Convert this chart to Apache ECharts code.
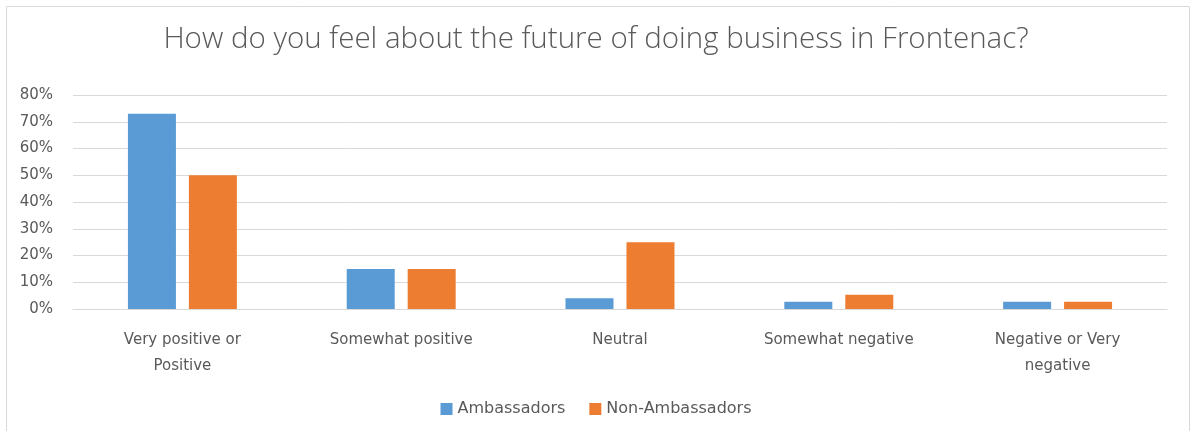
<!DOCTYPE html>
<html>
<head>
<meta charset="utf-8">
<script src="https://cdn.jsdelivr.net/npm/echarts@6/dist/echarts.min.js"></script>
<style>
  html, body { margin: 0; padding: 0; background: #fff; }
  #chart { width: 1192px; height: 431px; }
</style>
</head>
<body>
<div id="chart"></div>
<script>
// Survey responses, share of respondents (%)
const categories = [
  'Very positive or\nPositive',
  'Somewhat positive',
  'Neutral',
  'Somewhat negative',
  'Negative or Very\nnegative'
];
const ambassadors = [73, 15, 4, 2.7, 2.7];
const nonAmbassadors = [50, 15, 25, 5.3, 2.7];
const seriesNames = ['Ambassadors', 'Non-Ambassadors'];
const titleText = 'How do you feel about the future of doing business in Frontenac?';

const textColor = '#595959';
const gridColor = '#d9d9d9';
const titleFont = '"Open Sans", "Noto Sans", sans-serif';
const labelFont = '"DejaVu Sans", "Open Sans", sans-serif';

const chart = echarts.init(document.getElementById('chart'));
chart.setOption({
  animation: false,
  textStyle: { fontFamily: labelFont },
  graphic: [{
    type: 'rect',
    shape: { x: 6.5, y: 6.5, width: 1183, height: 440 },
    style: { fill: 'none', stroke: '#d9d9d9', lineWidth: 1 },
    silent: true
  }],
  title: {
    text: titleText,
    left: 'center',
    top: 20,
    textStyle: { fontFamily: titleFont, fontSize: 29.5, fontWeight: 300, color: textColor }
  },
  legend: {
    data: seriesNames,
    bottom: 9,
    left: 'center',
    icon: 'rect',
    itemWidth: 12,
    itemHeight: 12,
    itemGap: 24,
    textStyle: { fontFamily: labelFont, fontSize: 16, color: textColor }
  },
  grid: { left: 73, right: 25, top: 95, bottom: 122, containLabel: false },
  xAxis: {
    type: 'category',
    data: categories,
    axisLine: { show: true, lineStyle: { color: gridColor, width: 1 } },
    axisTick: { show: false },
    axisLabel: {
      interval: 0,
      margin: 18,
      fontFamily: labelFont,
      fontSize: 15,
      lineHeight: 26,
      color: textColor
    }
  },
  yAxis: {
    type: 'value',
    min: 0,
    max: 80,
    interval: 10,
    axisLine: { show: false },
    axisTick: { show: false },
    splitLine: { lineStyle: { color: gridColor, width: 1 } },
    axisLabel: {
      margin: 20,
      fontFamily: labelFont,
      fontSize: 15,
      color: textColor,
      formatter: '{value}%'
    }
  },
  series: [
    {
      name: seriesNames[0],
      type: 'bar',
      data: ambassadors,
      barWidth: 48,
      barGap: '27%',
      itemStyle: { color: '#5b9bd5' }
    },
    {
      name: seriesNames[1],
      type: 'bar',
      data: nonAmbassadors,
      barWidth: 48,
      barGap: '27%',
      itemStyle: { color: '#ed7d31' }
    }
  ]
});
</script>
</body>
</html>
